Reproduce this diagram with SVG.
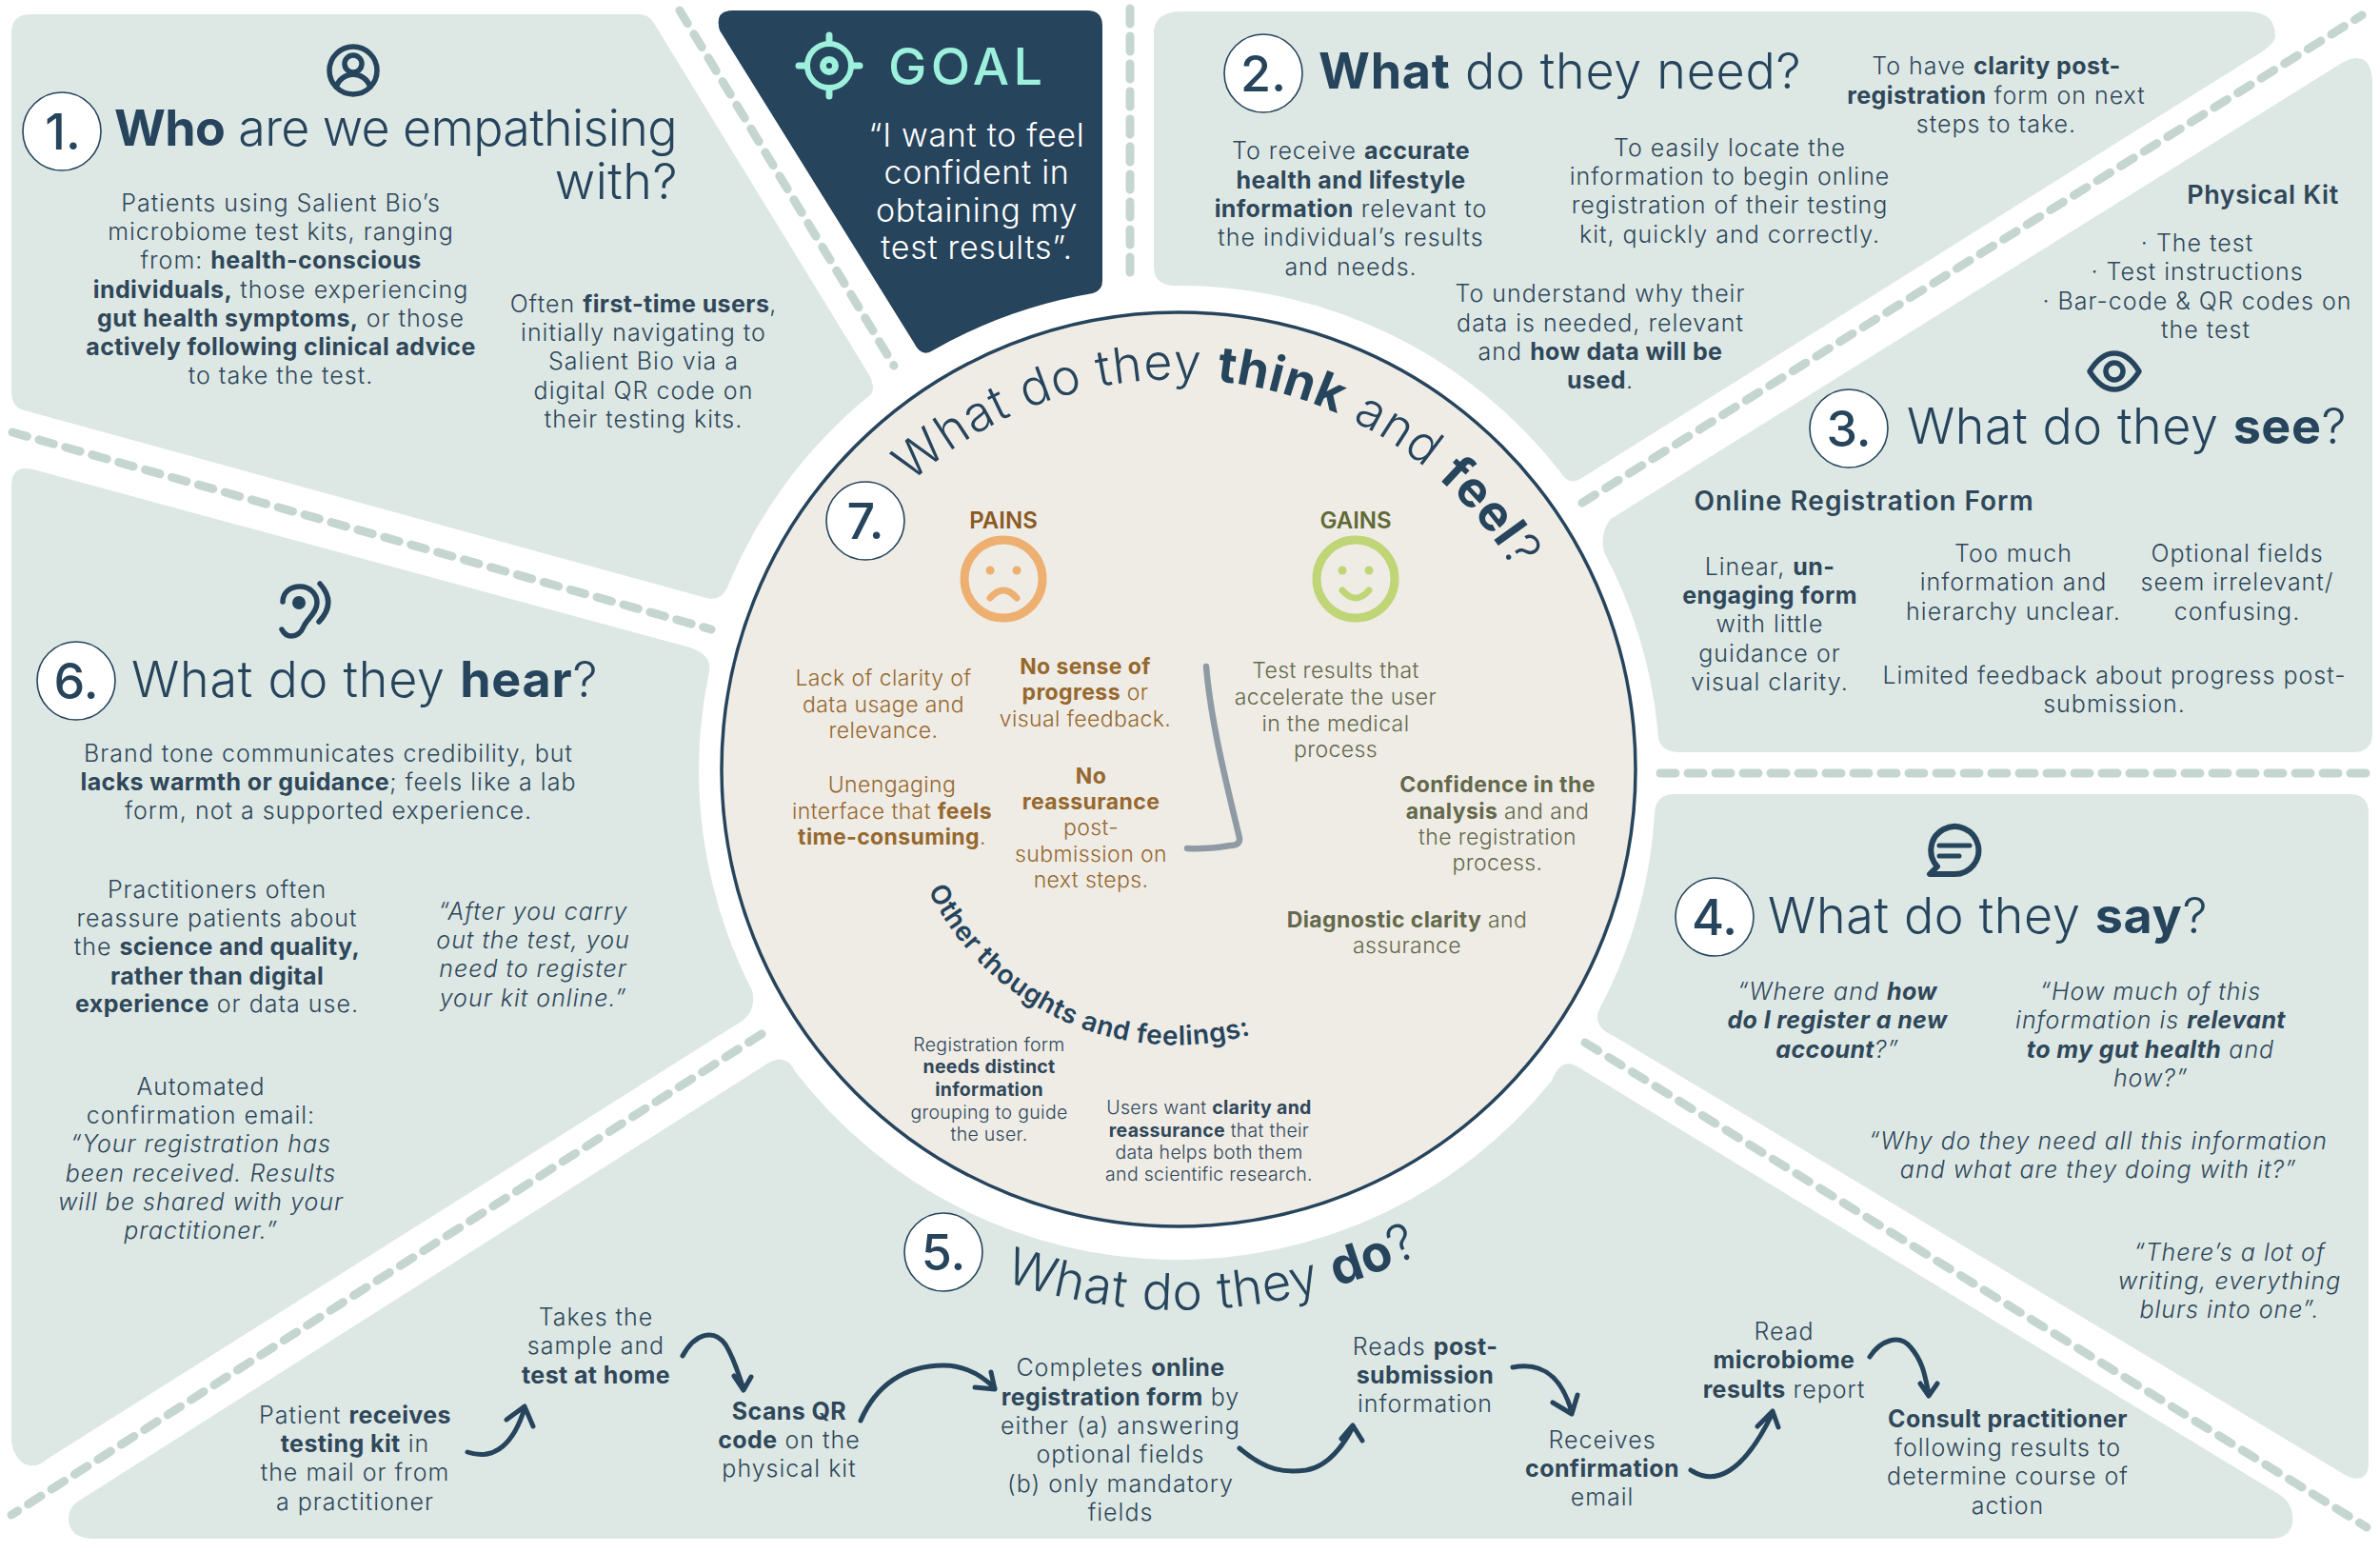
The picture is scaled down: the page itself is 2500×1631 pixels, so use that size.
<svg xmlns="http://www.w3.org/2000/svg" width="2500" height="1631" viewBox="0 0 2500 1631">
<style>
text{font-family:Inter,"Noto Sans",sans-serif;font-weight:300;fill:#2f4759;text-anchor:middle}
.p{fill:#dde8e5}
.t{font-size:25px;letter-spacing:1px}
.t .b{letter-spacing:.4px}
.i{font-style:italic}
.b{font-weight:700}
.h{font-size:52px;text-anchor:start;letter-spacing:.5px;fill:#26445c}
.n{font-size:52px;font-weight:500;fill:#26445c}
.c{fill:#fff;stroke:#26445c;stroke-width:1.6}
.d{fill:none;stroke:#c5d6d1;stroke-width:9;stroke-linecap:round;stroke-dasharray:16 13}
.a{fill:none;stroke:#26445c;stroke-width:5;stroke-linecap:round;stroke-linejoin:round}
.ic{fill:none;stroke:#26445c;stroke-width:5.5;stroke-linecap:round;stroke-linejoin:round}
.pa{font-size:23px;fill:#96682d;letter-spacing:.4px}
.ga{font-size:23px;fill:#63694a;letter-spacing:.4px}
.s{font-size:19.5px;letter-spacing:.3px}
.q{font-size:34px;fill:#fff;font-weight:300;letter-spacing:.7px}
</style>
<defs>
<path id="arc7" d="M957,507 A413,413 0 0 1 1634,700"/>
<path id="arcO" d="M975,935 A290,290 0 0 0 1340,1078"/>
<path id="arc5" d="M1055,1345 A568,568 0 0 0 1500,1312"/>
</defs>
<rect width="2500" height="1631" fill="#fff"/>

<g id="node-1">
<path class="p" d="M12,35 Q12,15 32,15 L672,15 Q682,15 688,26 L912,392 Q920,406 915,414 A515,515 0 0 0 766,612 Q760,632 742,628 L22,430 Q12,425 12,412 Z"/>
<g class="ic"><circle cx="371" cy="74" r="25"/><circle cx="371" cy="67" r="9"/><path d="M353,91 Q358,79 371,78 Q384,79 389,91"/></g>
<circle class="c" cx="65" cy="138" r="41"/><text class="n" x="66" y="157">1.</text>
<text class="h" x="120" y="153" textLength="592"><tspan class="b">Who</tspan> are we empathising</text>
<text class="h" x="712" y="209" style="text-anchor:end">with?</text>
<text class="t" x="295" y="222">Patients using Salient Bio’s</text>
<text class="t" x="295" y="252">microbiome test kits, ranging</text>
<text class="t" x="295" y="282">from: <tspan class="b">health-conscious</tspan></text>
<text class="t" x="295" y="313"><tspan class="b">individuals,</tspan> those experiencing</text>
<text class="t" x="295" y="343"><tspan class="b">gut health symptoms,</tspan> or those</text>
<text class="t" x="295" y="373"><tspan class="b">actively following clinical advice</tspan></text>
<text class="t" x="295" y="403">to take the test.</text>
<text class="t" x="676" y="328">Often <tspan class="b">first-time users</tspan>,</text>
<text class="t" x="676" y="358">initially navigating to</text>
<text class="t" x="676" y="388">Salient Bio via a</text>
<text class="t" x="676" y="419">digital QR code on</text>
<text class="t" x="676" y="449">their testing kits.</text>
</g>

<g id="node-goal">
<path fill="#26445c" d="M770,11 L1142,11 Q1158,11 1158,27 L1158,295 Q1158,305 1148,308 A510,510 0 0 0 980,368 Q968,376 960,360 L756,32 Q750,11 770,11 Z"/>
<g fill="none" stroke="#9df0dc" stroke-width="6" stroke-linecap="round"><circle cx="871" cy="69" r="23"/><circle cx="871" cy="69" r="6.5" stroke-width="7"/><path d="M871,37 V45 M871,93 V101 M839,69 H847 M895,69 H903" stroke-width="7"/></g>
<text x="933" y="89" textLength="162" style="text-anchor:start;font-size:54px;fill:#9df0dc;font-weight:500">GOAL</text>
<text class="q" x="1026" y="154">“I want to feel</text>
<text class="q" x="1026" y="193">confident in</text>
<text class="q" x="1026" y="233">obtaining my</text>
<text class="q" x="1026" y="272">test results”.</text>
</g>

<g id="node-2">
<path class="p" d="M1242,12 L2360,12 Q2390,12 2390,38 Q2390,45 2375,55 L1660,503 Q1648,510 1640,497 A508,508 0 0 0 1240,300 L1235,300 Q1212,300 1212,280 L1212,35 Q1212,12 1242,12 Z"/>
<circle class="c" cx="1327" cy="77" r="41"/><text class="n" x="1327" y="96">2.</text>
<text class="h" x="1385" y="93" textLength="507"><tspan class="b">What</tspan> do they need?</text>
<text class="t" x="1419" y="167">To receive <tspan class="b">accurate</tspan></text>
<text class="t" x="1419" y="198"><tspan class="b">health and lifestyle</tspan></text>
<text class="t" x="1419" y="228"><tspan class="b">information</tspan> relevant to</text>
<text class="t" x="1419" y="258">the individual’s results</text>
<text class="t" x="1419" y="289">and needs.</text>
<text class="t" x="1817" y="164">To easily locate the</text>
<text class="t" x="1817" y="194">information to begin online</text>
<text class="t" x="1817" y="224">registration of their testing</text>
<text class="t" x="1817" y="255">kit, quickly and correctly.</text>
<text class="t" x="2097" y="78">To have <tspan class="b">clarity post-</tspan></text>
<text class="t" x="2097" y="109"><tspan class="b">registration</tspan> form on next</text>
<text class="t" x="2097" y="139">steps to take.</text>
<text class="t" x="1681" y="317">To understand why their</text>
<text class="t" x="1681" y="348">data is needed, relevant</text>
<text class="t" x="1681" y="378">and <tspan class="b">how data will be</tspan></text>
<text class="t" x="1681" y="408"><tspan class="b">used</tspan>.</text>
</g>

<g id="node-3">
<path class="p" d="M2460,66 Q2490,50 2492,85 L2492,770 Q2492,790 2472,790 L1765,790 Q1745,790 1742,775 A505,505 0 0 0 1685,580 Q1680,560 1692,545 Z"/>
<text x="2377" y="214" style="font-size:27px;font-weight:600;letter-spacing:.6px">Physical Kit</text>
<text class="t" x="2308" y="264">·  The test</text>
<text class="t" x="2308" y="294">·  Test instructions</text>
<text class="t" x="2308" y="325">·  Bar-code &amp; QR codes on</text>
<text class="t" x="2317" y="355">the test</text>
<g class="ic"><path d="M2195,390 C2203,377 2211,371 2221,371 C2231,371 2239,377 2247,390 C2239,403 2231,409 2221,409 C2211,409 2203,403 2195,390 Z"/><circle cx="2221" cy="390" r="9"/></g>
<circle class="c" cx="1942" cy="450" r="41"/><text class="n" x="1942" y="469">3.</text>
<text class="h" x="2003" y="466" textLength="462">What do they <tspan class="b">see</tspan>?</text>
<text x="1958" y="536" style="font-size:28px;font-weight:600;letter-spacing:1px">Online Registration Form</text>
<text class="t" x="1859" y="604">Linear, <tspan class="b">un-</tspan></text>
<text class="t" x="1859" y="634"><tspan class="b">engaging form</tspan></text>
<text class="t" x="1859" y="664">with little</text>
<text class="t" x="1859" y="695">guidance or</text>
<text class="t" x="1859" y="725">visual clarity.</text>
<text class="t" x="2115" y="590">Too much</text>
<text class="t" x="2115" y="620">information and</text>
<text class="t" x="2115" y="651">hierarchy unclear.</text>
<text class="t" x="2350" y="590">Optional fields</text>
<text class="t" x="2350" y="620">seem irrelevant/</text>
<text class="t" x="2350" y="651">confusing.</text>
<text class="t" x="2221" y="718">Limited feedback about progress post-</text>
<text class="t" x="2221" y="748">submission.</text>
</g>

<g id="node-4">
<path class="p" d="M1760,834 L2468,834 Q2488,834 2488,854 L2488,1535 Q2488,1560 2465,1550 L1695,1088 Q1672,1078 1680,1060 A505,505 0 0 0 1738,855 Q1738,834 1760,834 Z"/>
<g class="ic" style="stroke-width:6"><path d="M2053,918 A25,25 0 1 0 2035,910 L2027,918 Z"/><path d="M2037,888 H2069 M2037,899 H2058" style="stroke-width:5"/></g>
<circle class="c" cx="1801" cy="963" r="41"/><text class="n" x="1801" y="982">4.</text>
<text class="h" x="1857" y="980" textLength="462">What do they <tspan class="b">say</tspan>?</text>
<text class="t i" x="1930" y="1050">“Where and <tspan class="b">how</tspan></text>
<text class="t i" x="1930" y="1080"><tspan class="b">do I register a new</tspan></text>
<text class="t i" x="1930" y="1111"><tspan class="b">account</tspan>?”</text>
<text class="t i" x="2259" y="1050">“How much of this</text>
<text class="t i" x="2259" y="1080">information is <tspan class="b">relevant</tspan></text>
<text class="t i" x="2259" y="1111"><tspan class="b">to my gut health</tspan> and</text>
<text class="t i" x="2259" y="1141">how?”</text>
<text class="t i" x="2204" y="1207">“Why do they need all this information</text>
<text class="t i" x="2204" y="1237">and what are they doing with it?”</text>
<text class="t i" x="2342" y="1324">“There’s a lot of</text>
<text class="t i" x="2342" y="1354">writing, everything</text>
<text class="t i" x="2342" y="1384">blurs into one”.</text>
</g>

<g id="node-5">
<path class="p" d="M100,1616 Q72,1616 72,1595 Q72,1585 80,1578 L806,1117 Q825,1105 835,1125 A506,506 0 0 0 1630,1135 Q1640,1108 1660,1122 L2395,1570 Q2410,1580 2408,1600 Q2405,1616 2385,1616 Z"/>
<circle class="c" cx="991" cy="1315" r="41"/><text class="n" x="991" y="1334">5.</text>
<text style="font-size:53px;fill:#26445c;text-anchor:start;letter-spacing:1px"><textPath href="#arc5">What do they <tspan class="b">do</tspan>?</textPath></text>
<text class="t" x="373" y="1495">Patient <tspan class="b">receives</tspan></text>
<text class="t" x="373" y="1525"><tspan class="b">testing kit</tspan> in</text>
<text class="t" x="373" y="1555">the mail or from</text>
<text class="t" x="373" y="1586">a practitioner</text>
<text class="t" x="626" y="1392">Takes the</text>
<text class="t" x="626" y="1422">sample and</text>
<text class="t" x="626" y="1453"><tspan class="b">test at home</tspan></text>
<text class="t" x="829" y="1491"><tspan class="b">Scans QR</tspan></text>
<text class="t" x="829" y="1521"><tspan class="b">code</tspan> on the</text>
<text class="t" x="829" y="1551">physical kit</text>
<text class="t" x="1177" y="1445">Completes <tspan class="b">online</tspan></text>
<text class="t" x="1177" y="1476"><tspan class="b">registration form</tspan> by</text>
<text class="t" x="1177" y="1506">either (a) answering</text>
<text class="t" x="1177" y="1536">optional fields</text>
<text class="t" x="1177" y="1567">(b) only mandatory</text>
<text class="t" x="1177" y="1597">fields</text>
<text class="t" x="1497" y="1423">Reads <tspan class="b">post-</tspan></text>
<text class="t" x="1497" y="1453"><tspan class="b">submission</tspan></text>
<text class="t" x="1497" y="1483">information</text>
<text class="t" x="1683" y="1521">Receives</text>
<text class="t" x="1683" y="1551"><tspan class="b">confirmation</tspan></text>
<text class="t" x="1683" y="1581">email</text>
<text class="t" x="1874" y="1407">Read</text>
<text class="t" x="1874" y="1437"><tspan class="b">microbiome</tspan></text>
<text class="t" x="1874" y="1468"><tspan class="b">results</tspan> report</text>
<text class="t" x="2109" y="1499"><tspan class="b">Consult practitioner</tspan></text>
<text class="t" x="2109" y="1529">following results to</text>
<text class="t" x="2109" y="1559">determine course of</text>
<text class="t" x="2109" y="1590">action</text>
</g>

<g id="node-6">
<path class="p" d="M12,510 Q12,488 35,493 L725,680 Q748,688 745,705 A505,505 0 0 0 790,1040 Q795,1060 780,1072 L50,1532 Q35,1545 22,1535 Q12,1525 12,1510 Z"/>
<g class="ic"><path d="M297,632 C297,622 305,616 315,616 C326,616 333,624 333,633 C333,644 322,650 319,658 C316,665 312,668 306,668 C301,668 298,665 296,661"/><path d="M336,613 Q354,633 335,653"/><circle cx="314" cy="633" r="7" fill="#26445c" stroke="none"/></g>
<circle class="c" cx="80" cy="715" r="41"/><text class="n" x="80" y="734">6.</text>
<text class="h" x="138" y="732" textLength="490">What do they <tspan class="b">hear</tspan>?</text>
<text class="t" x="345" y="800">Brand tone communicates credibility, but</text>
<text class="t" x="345" y="830"><tspan class="b">lacks warmth or guidance</tspan>; feels like a lab</text>
<text class="t" x="345" y="860">form, not a supported experience.</text>
<text class="t" x="228" y="943">Practitioners often</text>
<text class="t" x="228" y="973">reassure patients about</text>
<text class="t" x="228" y="1003">the <tspan class="b">science and quality,</tspan></text>
<text class="t" x="228" y="1034"><tspan class="b">rather than digital</tspan></text>
<text class="t" x="228" y="1063"><tspan class="b">experience</tspan> or data use.</text>
<text class="t i" x="560" y="966">“After you carry</text>
<text class="t i" x="560" y="996">out the test, you</text>
<text class="t i" x="560" y="1026">need to register</text>
<text class="t i" x="560" y="1057">your kit online.”</text>
<text class="t" x="211" y="1150">Automated</text>
<text class="t" x="211" y="1180">confirmation email:</text>
<text class="t i" x="211" y="1210">“Your registration has</text>
<text class="t i" x="211" y="1241">been received. Results</text>
<text class="t i" x="211" y="1271">will be shared with your</text>
<text class="t i" x="211" y="1301">practitioner.”</text>
</g>

<g id="node-7">
<circle cx="1238" cy="808" r="480" fill="#efece6" stroke="#26445c" stroke-width="3.5"/>
<circle class="c" cx="909" cy="547" r="41"/><text class="n" x="909" y="566">7.</text>
<text style="font-size:52px;fill:#26445c;text-anchor:start;letter-spacing:1px"><textPath href="#arc7">What do they <tspan class="b">think</tspan> and <tspan class="b">feel</tspan>?</textPath></text>
<text x="1054" y="555" style="font-size:24px;font-weight:600;fill:#8a5a24">PAINS</text>
<g fill="none" stroke="#edb070"><circle cx="1054" cy="608" r="41" stroke-width="9"/><path d="M1040,628 Q1054,612 1068,628" stroke-width="7" stroke-linecap="round"/><circle cx="1040" cy="599" r="4.5" fill="#edb070" stroke="none"/><circle cx="1068" cy="599" r="4.5" fill="#edb070" stroke="none"/></g>
<text x="1424" y="555" style="font-size:24px;font-weight:600;fill:#5f6a35">GAINS</text>
<g fill="none" stroke="#c0d576"><circle cx="1424" cy="608" r="41" stroke-width="9"/><path d="M1410,620 Q1424,636 1438,620" stroke-width="7" stroke-linecap="round"/><circle cx="1410" cy="599" r="4.5" fill="#c0d576" stroke="none"/><circle cx="1438" cy="599" r="4.5" fill="#c0d576" stroke="none"/></g>
<text class="pa" x="928" y="720">Lack of clarity of</text>
<text class="pa" x="928" y="748">data usage and</text>
<text class="pa" x="928" y="775">relevance.</text>
<text class="pa" x="1140" y="708"><tspan class="b">No sense of</tspan></text>
<text class="pa" x="1140" y="735"><tspan class="b">progress</tspan> or</text>
<text class="pa" x="1140" y="763">visual feedback.</text>
<text class="pa" x="937" y="832">Unengaging</text>
<text class="pa" x="937" y="860">interface that <tspan class="b">feels</tspan></text>
<text class="pa" x="937" y="887"><tspan class="b">time-consuming</tspan>.</text>
<text class="pa" x="1146" y="823"><tspan class="b">No</tspan></text>
<text class="pa" x="1146" y="850"><tspan class="b">reassurance</tspan></text>
<text class="pa" x="1146" y="877">post-</text>
<text class="pa" x="1146" y="905">submission on</text>
<text class="pa" x="1146" y="932">next steps.</text>
<path d="M1267,700 C1272,760 1290,830 1302,880 Q1303,888 1292,888 Q1270,892 1247,891" fill="none" stroke="#8e9ba5" stroke-width="6.5" stroke-linecap="round"/>
<text class="ga" x="1403" y="712">Test results that</text>
<text class="ga" x="1403" y="740">accelerate the user</text>
<text class="ga" x="1403" y="768">in the medical</text>
<text class="ga" x="1403" y="795">process</text>
<text class="ga" x="1573" y="832"><tspan class="b">Confidence in the</tspan></text>
<text class="ga" x="1573" y="860"><tspan class="b">analysis</tspan> and and</text>
<text class="ga" x="1573" y="887">the registration</text>
<text class="ga" x="1573" y="914">process.</text>
<text class="ga" x="1478" y="974"><tspan class="b">Diagnostic clarity</tspan> and</text>
<text class="ga" x="1478" y="1001">assurance</text>
<text style="font-size:28px;font-weight:600;fill:#26445c;text-anchor:start;letter-spacing:.6px"><textPath href="#arcO">Other thoughts and feelings:</textPath></text>
<text class="s" x="1039" y="1104">Registration form</text>
<text class="s" x="1039" y="1127"><tspan class="b">needs distinct</tspan></text>
<text class="s" x="1039" y="1151"><tspan class="b">information</tspan></text>
<text class="s" x="1039" y="1175">grouping to guide</text>
<text class="s" x="1039" y="1198">the user.</text>
<text class="s" x="1270" y="1170">Users want <tspan class="b">clarity and</tspan></text>
<text class="s" x="1270" y="1194"><tspan class="b">reassurance</tspan> that their</text>
<text class="s" x="1270" y="1217">data helps both them</text>
<text class="s" x="1270" y="1240">and scientific research.</text>
</g>

<g id="connectors">
<path class="d" d="M714,11 L939,384"/>
<path class="d" d="M13,454 L747,661"/>
<path class="d" d="M800,1086 L12,1591"/>
<path class="d" d="M1665,1095 L2486,1604"/>
<path class="d" d="M1744,812 L2490,812"/>
<path class="d" d="M1662,528 L2481,16"/>
<path class="d" d="M1187,9 L1187,299"/>
<path class="a" d="M491,1525 C520,1535 540,1515 551,1479 M532,1491 L551,1477 L560,1498"/>
<path class="a" d="M717,1424 C730,1400 750,1395 762,1412 C772,1428 776,1445 781,1458 M771,1445 L781,1460 L789,1446"/>
<path class="a" d="M904,1492 C920,1455 950,1434 991,1434 C1015,1434 1032,1445 1045,1458 M1024,1457 L1045,1459 L1041,1441"/>
<path class="a" d="M1302,1521 C1330,1545 1350,1547 1372,1544 C1395,1540 1410,1520 1421,1499 M1409,1511 L1421,1497 L1431,1513"/>
<path class="a" d="M1589,1436 C1620,1430 1640,1445 1651,1483 M1631,1473 L1651,1485 L1657,1465"/>
<path class="a" d="M1776,1544 C1800,1560 1830,1550 1862,1484 M1846,1498 L1862,1482 L1868,1499"/>
<path class="a" d="M1964,1425 C1975,1408 1995,1400 2007,1415 C2020,1430 2022,1445 2026,1464 M2017,1453 L2026,1466 L2035,1453"/>
</g>
</svg>
